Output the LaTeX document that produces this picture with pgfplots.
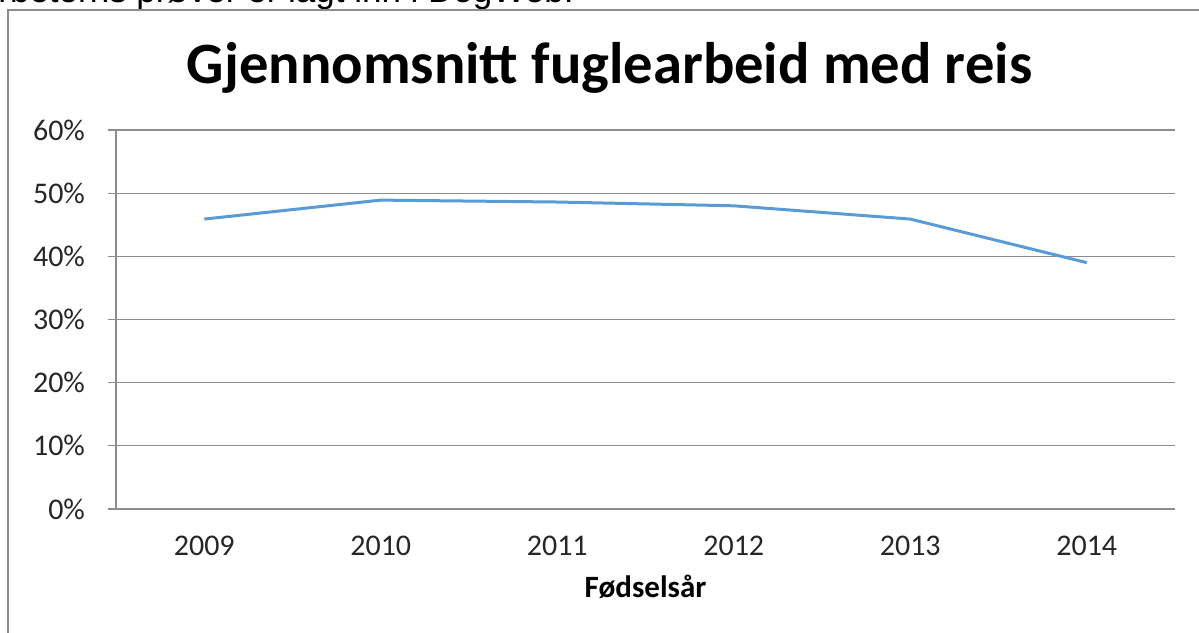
\documentclass[border=0pt]{standalone}
\usepackage{fontspec}
\setmainfont{Carlito}
\newfontfamily\arial{Liberation Sans}
\usepackage{pgfplots}
\pgfplotsset{compat=1.18}
\definecolor{linjeblaa}{HTML}{5B9BD5}
\definecolor{rutenett}{HTML}{8C8C8C}

\begin{document}
\begin{tikzpicture}
% 1199 x 632 px, 1 px = 0.5 pt
\node[anchor=base west, inner sep=0, font=\arial\fontsize{17.5}{20}\selectfont]
  at (-1pt,314.5pt) {rbeterns prøver er lagt inn i DogWeb.};
\draw[rutenett, line width=0.6pt] (4pt,-5pt) -- (4pt,311pt) -- (610pt,311pt);
\node[anchor=base, inner sep=0, font=\fontsize{29.3}{34}\selectfont\bfseries]
  at (304.8pt,274pt) {Gjennomsnitt fuglearbeid med reis};
\begin{axis}[
  at={(58pt,61.5pt)}, anchor=south west,
  scale only axis,
  width=529.5pt, height=189.5pt,
  xmin=-0.5, xmax=5.5,
  ymin=0, ymax=60,
  axis x line*=bottom,
  axis y line*=left,
  axis line style={rutenett, line width=0.6pt},
  xtick={0,...,5},
  xticklabels={2009,2010,2011,2012,2013,2014},
  major x tick style={draw=none},
  extra x ticks={-0.5,0.5,1.5,2.5,3.5,4.5,5.5},
  extra x tick labels={},
  extra x tick style={tick style={rutenett, line width=0.6pt}, major tick length=4pt},
  ytick={0,10,...,60},
  yticklabels={0\%,10\%,20\%,30\%,40\%,50\%,60\%},
  ytick style={rutenett, line width=0.6pt},
  tick align=outside,
  major tick length=4pt,
  ymajorgrids=true,
  grid style={rutenett, line width=0.6pt},
  tick label style={font=\fontsize{15}{18}\selectfont, text=black!85},
  xticklabel style={yshift=-6pt},
  yticklabel style={xshift=-8pt},
  xlabel={Fødselsår},
  xlabel style={at={(axis description cs:0.5,0)}, anchor=base, yshift=-44pt,
    font=\fontsize{15.5}{18}\selectfont\bfseries},
  clip=false,
]
\addplot[linjeblaa, line width=1.5pt, line join=round] coordinates {
  (0,45.9) (1,48.9) (2,48.6) (3,48.0) (4,45.9) (5,39.0)
};
\end{axis}
\pgfresetboundingbox
\path[use as bounding box] (0pt,0pt) rectangle (599.5pt,316pt);
\end{tikzpicture}
\end{document}
